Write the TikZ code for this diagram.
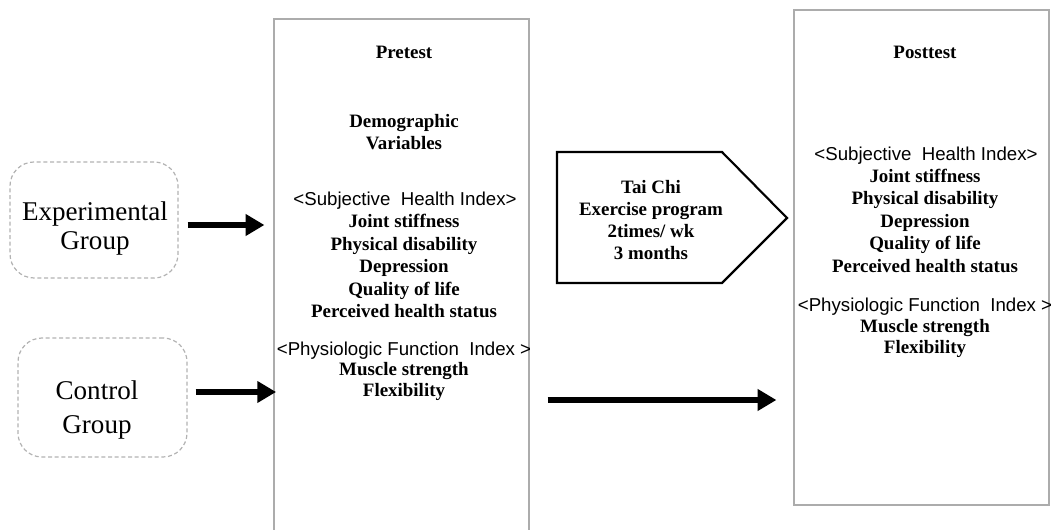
\documentclass[tikz,border=0pt]{standalone}
\usepackage{fontspec}
\setmainfont{Liberation Serif}
\setsansfont{Liberation Sans}
\usetikzlibrary{arrows.meta}
\begin{document}
\begin{tikzpicture}[x=0.75pt,y=-0.75pt,
  colbox/.style={draw=gray!65, line width=0.9pt, inner sep=0pt},
  grpbox/.style={draw=gray!60, line width=0.9pt, densely dashed, rounded corners=18pt, inner sep=0pt},
  bt/.style={font=\fontsize{14.2}{16}\selectfont\bfseries, inner sep=0pt, anchor=base},
  st/.style={font=\fontsize{14}{16}\selectfont\sffamily, inner sep=0pt, anchor=base},
  gt/.style={font=\fontsize{20.3}{24}\selectfont, inner sep=0pt, anchor=base},
  bigarrow/.style={line width=4.6pt, -{Triangle[length=14pt,width=15.5pt]}},
]
\useasboundingbox (0,0) rectangle (1054,530);

% boxes
\node[colbox, minimum width=191.25pt, minimum height=394.5pt] (pre) at (401.5,282) {};
\node[colbox, minimum width=191.25pt, minimum height=371.25pt] (post) at (921.5,257.5) {};
\node[grpbox, minimum width=126pt, minimum height=87pt] (exp) at (94,220) {};
\node[grpbox, minimum width=126.75pt, minimum height=89.25pt] (ctl) at (102.5,397.5) {};

% group texts
\node[gt] (expa) at (95,221) {Experimental};
\node[gt] (expb) at (95,250) {Group};
\node[gt] (ctla) at (97,400) {Control};
\node[gt] (ctlb) at (97,434) {Group};

% pretest texts
\node[bt] (p1) at (404,59) {Pretest};
\node[bt] (p2) at (404,128) {Demographic};
\node[bt] (p3) at (404,150) {Variables};
\node[st] (p4) at (405,206) {<Subjective\ \ Health Index>};
\node[bt] (p5) at (404,228) {Joint stiffness};
\node[bt] (p6) at (404,251) {Physical disability};
\node[bt] (p7) at (404,273) {Depression};
\node[bt] (p8) at (404,296) {Quality of life};
\node[bt] (p9) at (404,318) {Perceived health status};
\node[st] (p10) at (404,356) {<Physiologic Function\ \ Index\ >};
\node[bt] (p11) at (404,376) {Muscle strength};
\node[bt] (p12) at (404,397) {Flexibility};

% posttest texts
\node[bt] (q1) at (925,59) {Posttest};
\node[st] (q2) at (926,161) {<Subjective\ \ Health Index>};
\node[bt] (q3) at (925,183) {Joint stiffness};
\node[bt] (q4) at (925,205) {Physical disability};
\node[bt] (q5) at (925,228) {Depression};
\node[bt] (q6) at (925,250) {Quality of life};
\node[bt] (q7) at (925,273) {Perceived health status};
\node[st] (q8) at (925,312) {<Physiologic Function\ \ Index\ >};
\node[bt] (q9) at (925,333) {Muscle strength};
\node[bt] (q10) at (925,354) {Flexibility};

% Tai Chi pentagon
\draw[line width=1.6pt, line join=miter] (557,152) -- (722,152) -- (787,218) -- (722,283) -- (557,283) -- cycle;
\node[bt] (t1) at (651,194) {Tai Chi};
\node[bt] (t2) at (651,216) {Exercise program};
\node[bt] (t3) at (651,238) {2times/ wk};
\node[bt] (t4) at (651,260) {3 months};

% arrows
\coordinate (ea) at (0,225);
\coordinate (ca) at (0,392);
\coordinate (ba) at (0,400);
\draw[bigarrow, shorten <=6.75pt, shorten >=6.75pt] (exp.east |- ea) -- (pre.west |- ea);
\draw[bigarrow, shorten <=6pt, shorten >=-2pt] (ctl.east |- ca) -- (pre.west |- ca);
\draw[bigarrow, shorten <=13.5pt, shorten >=12.75pt] (pre.east |- ba) -- (post.west |- ba);
\end{tikzpicture}
\end{document}
